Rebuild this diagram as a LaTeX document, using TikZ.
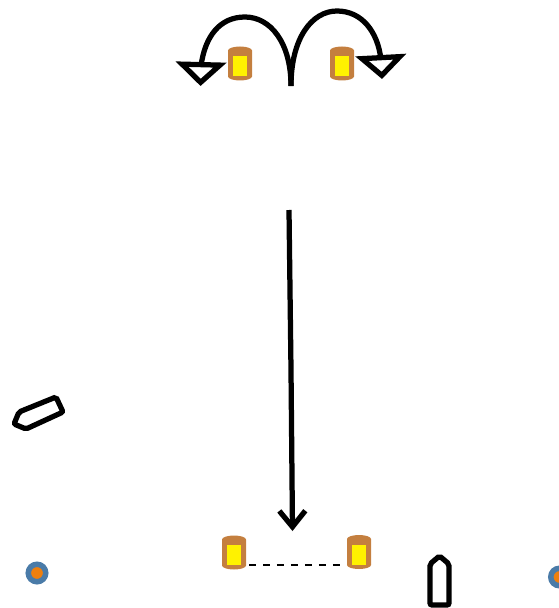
\documentclass[tikz,border=0pt]{standalone}
\usetikzlibrary{arrows.meta}
\definecolor{cbrown}{HTML}{C47F3F}
\definecolor{cblue}{HTML}{4A7BA8}
\definecolor{corange}{HTML}{EE7F0E}
\tikzset{
  can/.pic={
    \fill[cbrown] (-12,-13) arc[start angle=180, end angle=360, x radius=12, y radius=4]
      -- (12,13) arc[start angle=0, end angle=180, x radius=12, y radius=4] -- cycle;
    \fill[yellow] (-7,-7.5) rectangle (7,12.5);
  },
  buoy/.style={circle, fill=corange, draw=cblue, line width=0.11cm, minimum size=0.35cm, inner sep=0pt},
  hull/.style={draw=black, line width=0.105cm, rounded corners=0.04cm},
  curve/.style={-{Triangle[open, quick, length=0.48cm, width=1cm, fill=white]}, draw=black, line width=0.105cm},
  arrow/.style={-{Straight Barb[length=0.32cm, width=0.52cm]}, draw=black, line width=0.105cm},
}
\begin{document}
\begin{tikzpicture}[x=0.02cm, y=-0.02cm]
  \useasboundingbox (0,0) rectangle (558,608);
  % cans
  \foreach \a/\b [count=\i] in {240/63.5, 342/63.5, 234/552.5, 359/552} {
    \pic (can\i) at (\a,\b) {can};
  }
  % buoys
  \node[buoy] (buoyl) at (37,573) {};
  \node[buoy] (buoyr) at (559.5,577) {};
  % hulls
  \draw[hull] (56,397) -- (63,412) -- (26,429) -- (14,424) -- (19,412) -- cycle;
  \draw[hull] (430,605) -- (430,564) -- (439.5,556) -- (449,564) -- (449,605) -- cycle;
  % curved arrows
  \coordinate (fork) at (291,86);
  \coordinate (endl) at (200.5,86);
  \coordinate (endr) at (382,79);
  \draw[curve] (fork) .. controls (291,42) and (270,17) .. (245,17) .. controls (220,17) and (205,36) .. (201,66) -- (endl);
  \draw[curve] (fork) .. controls (291,38) and (312,11) .. (337,11) .. controls (362,11) and (378,32) .. (381,60) -- (endr);
  % long arrow
  \coordinate (start) at (289,210);
  \coordinate (bend) at (291,370);
  \coordinate (tip) at (292.5,531);
  \draw[arrow] (start) -- (bend) -- (tip);
  % line
  \coordinate (dashl) at (249,565);
  \coordinate (dashr) at (341,565);
  \draw[line width=0.04cm, dash pattern=on 0.14cm off 0.14cm] (dashl) -- (dashr);
\end{tikzpicture}
\end{document}
